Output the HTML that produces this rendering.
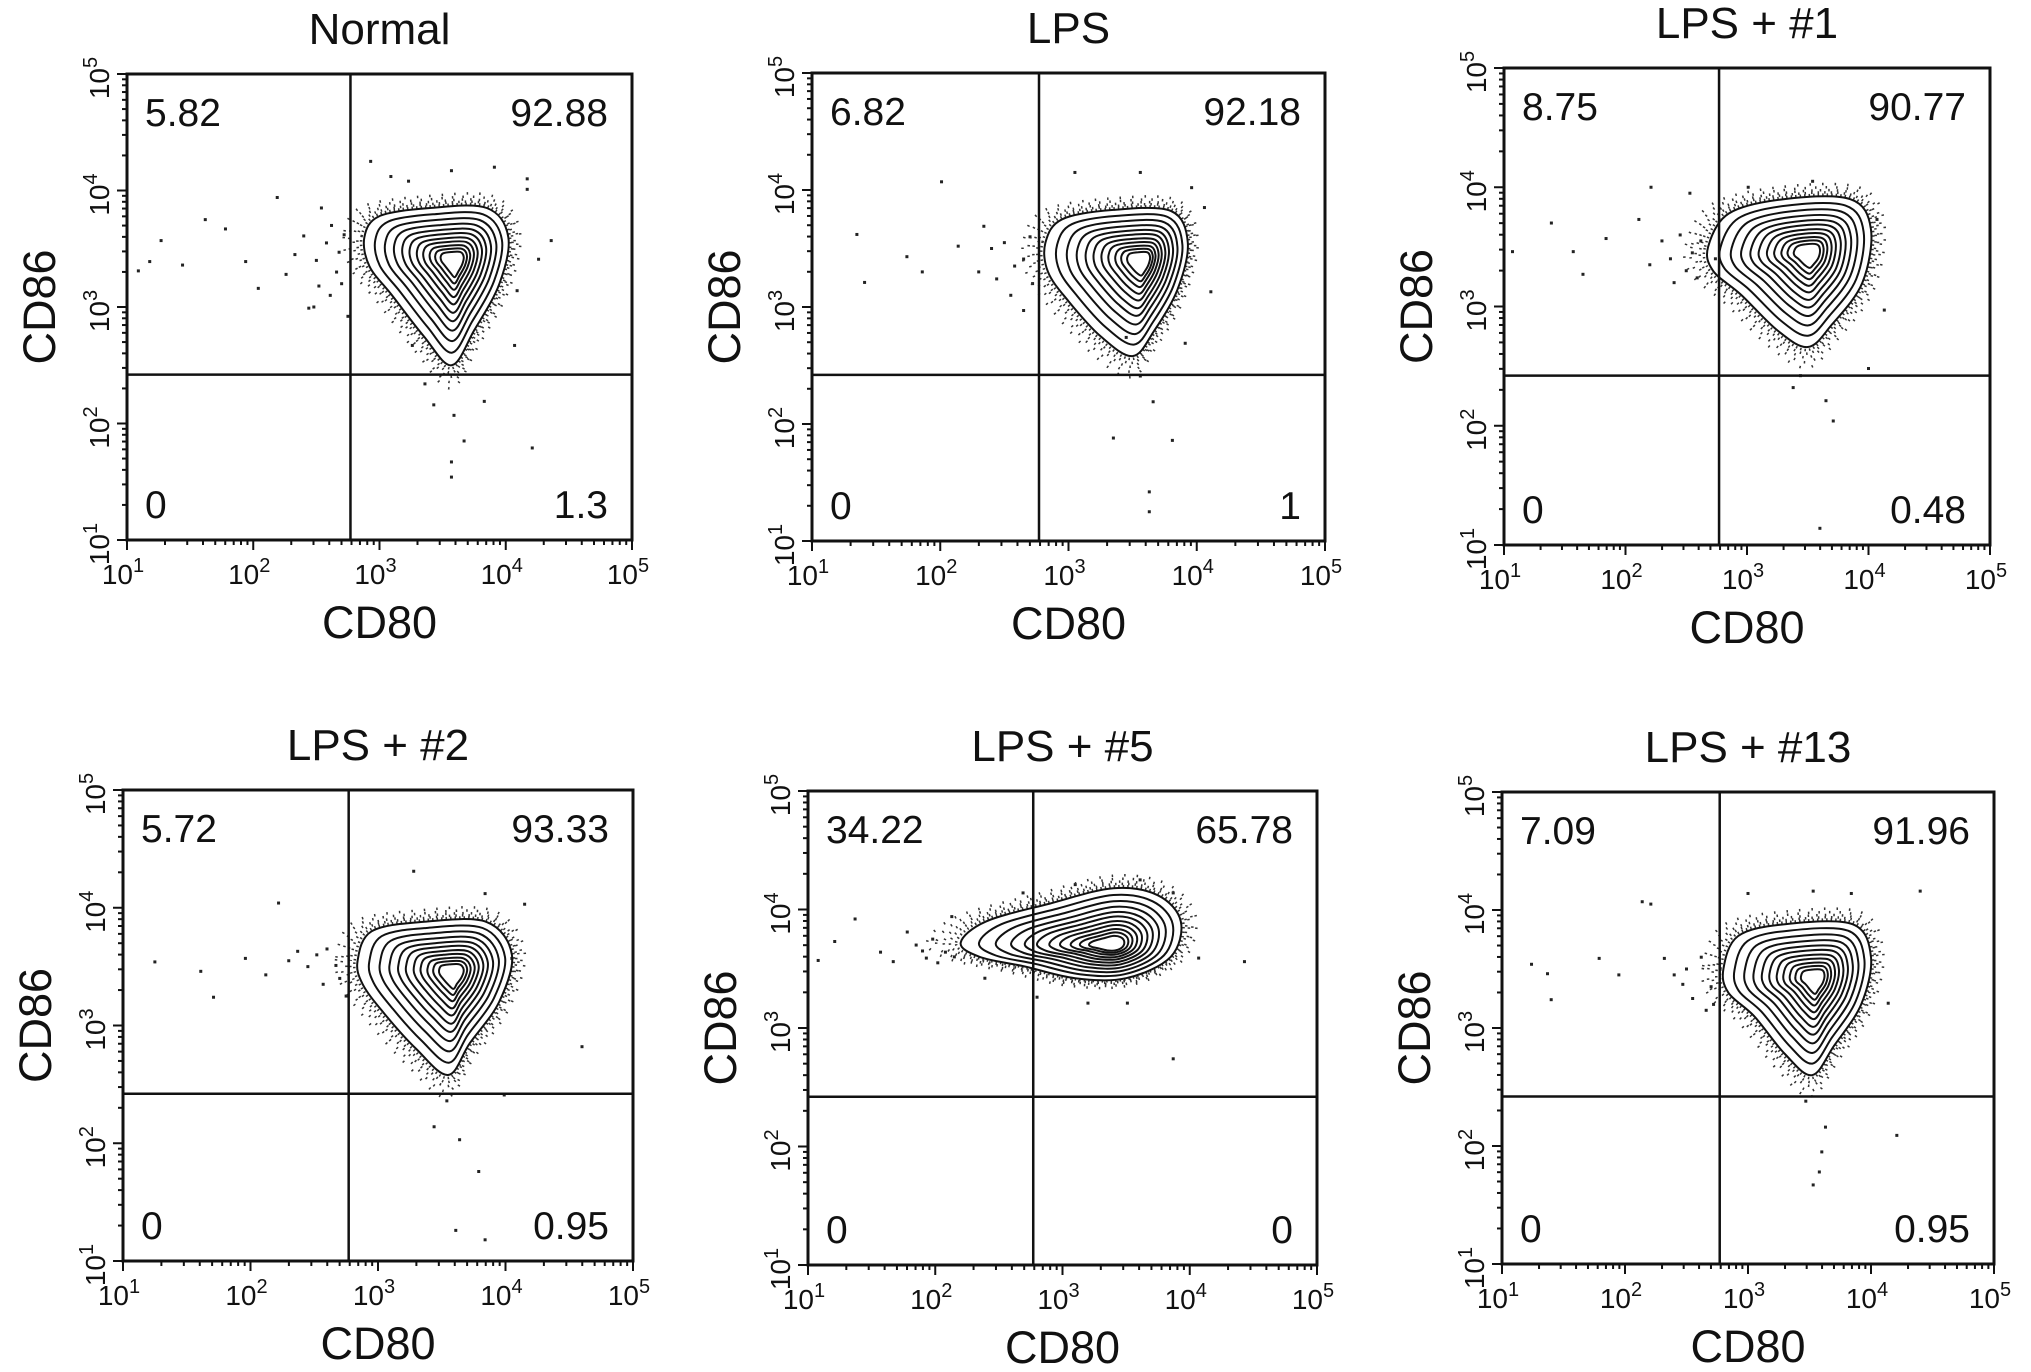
<!DOCTYPE html>
<html><head><meta charset="utf-8"><style>
html,body{margin:0;padding:0;background:#fff}
svg{display:block}
text{font-family:"Liberation Sans",Arial,sans-serif;fill:#111}
</style></head><body>
<svg id="chart" width="2031" height="1372" viewBox="0 0 2031 1372"></svg>
<script>
const titles=["Normal","LPS","LPS + #1","LPS + #2","LPS + #5","LPS + #13"];
const quadUL=["5.82","6.82","8.75","5.72","34.22","7.09"];
const quadUR=["92.88","92.18","90.77","93.33","65.78","91.96"];
const quadLL=["0","0","0","0","0","0"];
const quadLR=["1.3","1","0.48","0.95","0","0.95"];
const gateX=[2.77,2.77,2.77,2.77,2.77,2.77];
const gateY=[2.42,2.42,2.42,2.42,2.42,2.42];
const tickExp=[1,2,3,4,5];
const contourLevels=[1,0.88,0.77,0.67,0.58,0.5,0.42,0.35,0.28,0.22,0.16];
const peaks=[[3.6,3.4],[3.58,3.4],[3.52,3.45],[3.6,3.45],[3.4,3.7],[3.55,3.42]];
const outer0=[[2.88,3.6],[3.0,3.78],[3.4,3.85],[3.85,3.85],[4.02,3.6],[3.95,3.2],[3.75,2.8],[3.57,2.5],[3.35,2.75],[3.1,3.1],[2.92,3.35]];
const outer1=[[2.82,3.55],[2.95,3.75],[3.35,3.83],[3.8,3.82],[3.93,3.55],[3.85,3.15],[3.67,2.8],[3.5,2.58],[3.25,2.75],[3.0,3.05],[2.84,3.3]];
const outer2=[[2.68,3.5],[2.85,3.78],[3.3,3.9],[3.85,3.9],[4.02,3.65],[3.95,3.2],[3.7,2.85],[3.5,2.66],[3.25,2.8],[2.95,3.1],[2.72,3.3]];
const outer3=[[2.84,3.55],[2.95,3.8],[3.35,3.88],[3.85,3.88],[4.05,3.6],[3.95,3.2],[3.72,2.85],[3.55,2.58],[3.3,2.8],[3.05,3.1],[2.88,3.35]];
const outer4=[[2.2,3.72],[2.4,3.9],[2.9,4.05],[3.4,4.18],[3.75,4.12],[3.93,3.9],[3.85,3.6],[3.5,3.42],[3.1,3.42],[2.7,3.52],[2.35,3.6]];
const outer5=[[2.8,3.5],[2.92,3.78],[3.3,3.88],[3.85,3.88],[4.0,3.6],[3.92,3.2],[3.7,2.85],[3.52,2.6],[3.3,2.78],[3.05,3.1],[2.84,3.3]];
const dots0=[[1.09,3.31],[1.18,3.39],[1.27,3.57],[1.44,3.36],[1.62,3.75],[1.78,3.67],[1.94,3.39],[2.04,3.16],[2.19,3.94],[2.26,3.28],[2.40,3.61],[2.54,3.85],[2.44,2.99],[2.61,3.10],[2.68,3.47],[2.75,2.92],[2.93,4.25],[3.09,4.12],[3.23,4.08],[3.57,4.17],[3.91,4.2],[4.17,4.1],[4.17,4.01],[4.36,3.57],[4.26,3.41],[3.43,2.16],[3.59,2.07],[3.67,1.85],[3.57,1.67],[3.57,1.54],[4.21,1.79],[3.83,2.19],[4.09,3.14],[4.07,2.67],[3.36,2.34],[3.26,2.67],[2.5,3.4],[2.58,3.55],[2.66,3.3],[2.72,3.62],[2.7,3.2],[2.62,3.7],[2.52,3.18],[2.33,3.45],[2.48,3.0]];
const dots1=[[1.35,3.62],[1.41,3.21],[1.74,3.43],[1.86,3.3],[2.01,4.07],[2.14,3.52],[2.34,3.69],[2.44,3.24],[2.65,3.41],[2.65,2.97],[3.05,4.15],[3.56,4.15],[3.96,4.02],[4.06,3.85],[4.11,3.13],[3.56,2.41],[3.66,2.19],[3.81,1.86],[3.35,1.88],[3.63,1.42],[3.63,1.25],[3.45,2.74],[3.91,2.69],[2.5,3.55],[2.58,3.35],[2.7,3.6],[2.72,3.2],[2.55,3.1],[2.4,3.5],[2.3,3.3]];
const dots2=[[1.07,3.46],[1.39,3.7],[1.57,3.46],[1.65,3.27],[1.84,3.57],[2.11,3.73],[2.21,4.0],[2.37,3.4],[2.53,3.95],[2.59,3.24],[2.74,3.4],[3.01,4.0],[3.54,4.05],[4.07,3.73],[4.13,2.97],[3.44,2.42],[3.65,2.21],[3.71,2.04],[3.6,1.14],[3.38,2.32],[4.0,2.48],[2.3,3.55],[2.45,3.6],[2.5,3.3],[2.62,3.55],[2.4,3.2],[2.2,3.35],[2.55,3.45]];
const dots3=[[1.25,3.54],[1.61,3.46],[1.71,3.24],[1.96,3.57],[2.12,3.43],[2.22,4.04],[2.37,3.63],[2.57,3.35],[2.67,3.51],[3.28,4.31],[3.84,4.12],[4.15,4.03],[4.05,3.57],[4.6,2.82],[3.54,2.36],[3.64,2.03],[3.79,1.76],[3.61,1.26],[3.84,1.18],[3.44,2.14],[3.99,2.41],[2.45,3.5],[2.6,3.65],[2.7,3.4],[2.75,3.25],[2.52,3.6],[2.3,3.55]];
const dots4=[[1.08,3.57],[1.21,3.73],[1.37,3.92],[1.57,3.64],[1.67,3.56],[1.78,3.81],[1.93,3.59],[2.08,3.64],[2.13,3.94],[2.69,4.14],[3.10,4.21],[3.61,4.25],[3.87,4.14],[4.07,3.59],[4.43,3.56],[3.87,2.74],[3.51,3.21],[3.2,3.21],[2.8,3.26],[2.39,3.42],[1.85,3.7],[1.98,3.75],[2.02,3.55],[1.9,3.65],[2.15,3.6]];
const dots5=[[1.24,3.54],[1.37,3.46],[1.4,3.24],[1.79,3.59],[1.95,3.45],[2.14,4.07],[2.21,4.05],[2.32,3.59],[2.47,3.37],[2.66,3.15],[3.0,4.14],[3.53,4.16],[3.84,4.14],[4.4,4.16],[4.14,3.21],[3.47,2.38],[3.63,2.16],[3.6,1.95],[3.58,1.78],[3.53,1.67],[4.21,2.09],[2.5,3.5],[2.62,3.6],[2.7,3.35],[2.55,3.25],[2.4,3.45],[2.72,3.2]];
const outers=[outer0,outer1,outer2,outer3,outer4,outer5];
const dotsAll=[dots0,dots1,dots2,dots3,dots4,dots5];
const boxes=[[127,74,632,540],[812,73,1325,541],[1504,68,1990,545],[123,790,633,1261],[808,791,1317,1265],[1502,792,1994,1264]];
const haloScales=[1.03,1.07,1.11,1.16,1.22];

const NS="http://www.w3.org/2000/svg";
const svg=document.getElementById('chart');
function mk(tag,attrs,parent){const e=document.createElementNS(NS,tag);for(const k in attrs)e.setAttribute(k,attrs[k]);(parent||svg).appendChild(e);return e;}
function catmull(pts){
  const n=pts.length;let d="M"+pts[0][0].toFixed(1)+","+pts[0][1].toFixed(1);
  for(let i=0;i<n;i++){const p0=pts[(i-1+n)%n],p1=pts[i],p2=pts[(i+1)%n],p3=pts[(i+2)%n];
    const c1=[p1[0]+(p2[0]-p0[0])/6,p1[1]+(p2[1]-p0[1])/6],c2=[p2[0]-(p3[0]-p1[0])/6,p2[1]-(p3[1]-p1[1])/6];
    d+="C"+c1[0].toFixed(1)+","+c1[1].toFixed(1)+" "+c2[0].toFixed(1)+","+c2[1].toFixed(1)+" "+p2[0].toFixed(1)+","+p2[1].toFixed(1);}
  return d+"Z";
}
for(let p=0;p<6;p++){
  const [L,T,R,B]=boxes[p];
  const sx=v=>L+(v-1)/4*(R-L);
  const sy=v=>B-(v-1)/4*(B-T);
  const g=mk('g',{});
  
  
  const cx=(L+R)/2;
  const t=mk('text',{x:cx,y:T-30,'text-anchor':'middle','font-size':44},g);t.textContent=titles[p];
  
  
  const dg=mk('g',{},g);
  
  
  dotsAll[p].forEach(d=>{const c=mk('rect',{x:sx(d[0])-1.5,y:sy(d[1])-1.5,width:3,height:3,fill:'#222'},dg);
    
    });
  const pk=peaks[p],out=outers[p];
  const cg=mk('g',{},g);
  
  
  haloScales.forEach((s,i)=>{
    const pts=out.map(v=>[sx(pk[0]+(v[0]-pk[0])*s),sy(pk[1]+(v[1]-pk[1])*s)]);
    const h=mk('path',{d:catmull(pts),fill:'none',stroke:'#333','stroke-width':2.5,'stroke-dasharray':(1.5)+' '+(3+i*2),'stroke-dashoffset':i*3},cg);
    
    
  });
  contourLevels.forEach(s=>{
    const pts=out.map(v=>[sx(pk[0]+(v[0]-pk[0])*s),sy(pk[1]+(v[1]-pk[1])*s)]);
    const c=mk('path',{d:catmull(pts),fill:'none',stroke:'#111','stroke-width':2},cg);
    
    
  });
  const bx=mk('rect',{x:L,y:T,width:R-L,height:B-T,fill:'none',stroke:'#111','stroke-width':3},g);
  
  
  const gv=mk('line',{x1:sx(gateX[p]),x2:sx(gateX[p]),y1:T,y2:B,stroke:'#111','stroke-width':2.5},g);
  
  
  const gh=mk('line',{x1:L,x2:R,y1:sy(gateY[p]),y2:sy(gateY[p]),stroke:'#111','stroke-width':2.5},g);
  
  
  const q=[[quadUL[p],L+18,T+52,'start','quadrant-ul-value'],[quadUR[p],R-24,T+52,'end','quadrant-ur-value'],
           [quadLL[p],L+18,B-22,'start','quadrant-ll-value'],[quadLR[p],R-24,B-22,'end','quadrant-lr-value']];
  q.forEach(a=>{const e=mk('text',{x:a[1],y:a[2],'text-anchor':a[3],'font-size':39},g);e.textContent=a[0];
    
    });
  const tk=mk('g',{stroke:'#111','stroke-width':2},g);
  
  
  for(let e=1;e<5;e++){for(let m=1;m<10;m++){const v=e+Math.log10(m);const len=m===1?10:5;
    mk('line',{x1:sx(v),x2:sx(v),y1:B,y2:B+len},tk);
    mk('line',{x1:L-len,x2:L,y1:sy(v),y2:sy(v)},tk);}}
  mk('line',{x1:R,x2:R,y1:B,y2:B+10},tk);mk('line',{x1:L-10,x2:L,y1:T,y2:T},tk);
  tickExp.forEach(e=>{
    const xt=mk('text',{x:sx(e)-4,y:B+44,'text-anchor':'middle','font-size':28,fill:'#333'},g);
    
    
    xt.appendChild(document.createTextNode('10'));
    const s1=mk('tspan',{dy:-12,'font-size':20},xt);s1.textContent=String(e);
    const yt=mk('text',{transform:'translate('+(L-18)+','+(sy(e)+4)+') rotate(-90)','text-anchor':'middle','font-size':28,fill:'#333'},g);
    
    
    yt.appendChild(document.createTextNode('10'));
    const s2=mk('tspan',{dy:-12,'font-size':20},yt);s2.textContent=String(e);
  });
  const xtt=mk('text',{x:cx,y:B+98,'text-anchor':'middle','font-size':45},g);xtt.textContent='CD80';
  
  
  const ytt=mk('text',{transform:'translate('+(L-72)+','+((T+B)/2)+') rotate(-90)','text-anchor':'middle','font-size':45},g);ytt.textContent='CD86';
  
  
}
</script>
</body></html>
